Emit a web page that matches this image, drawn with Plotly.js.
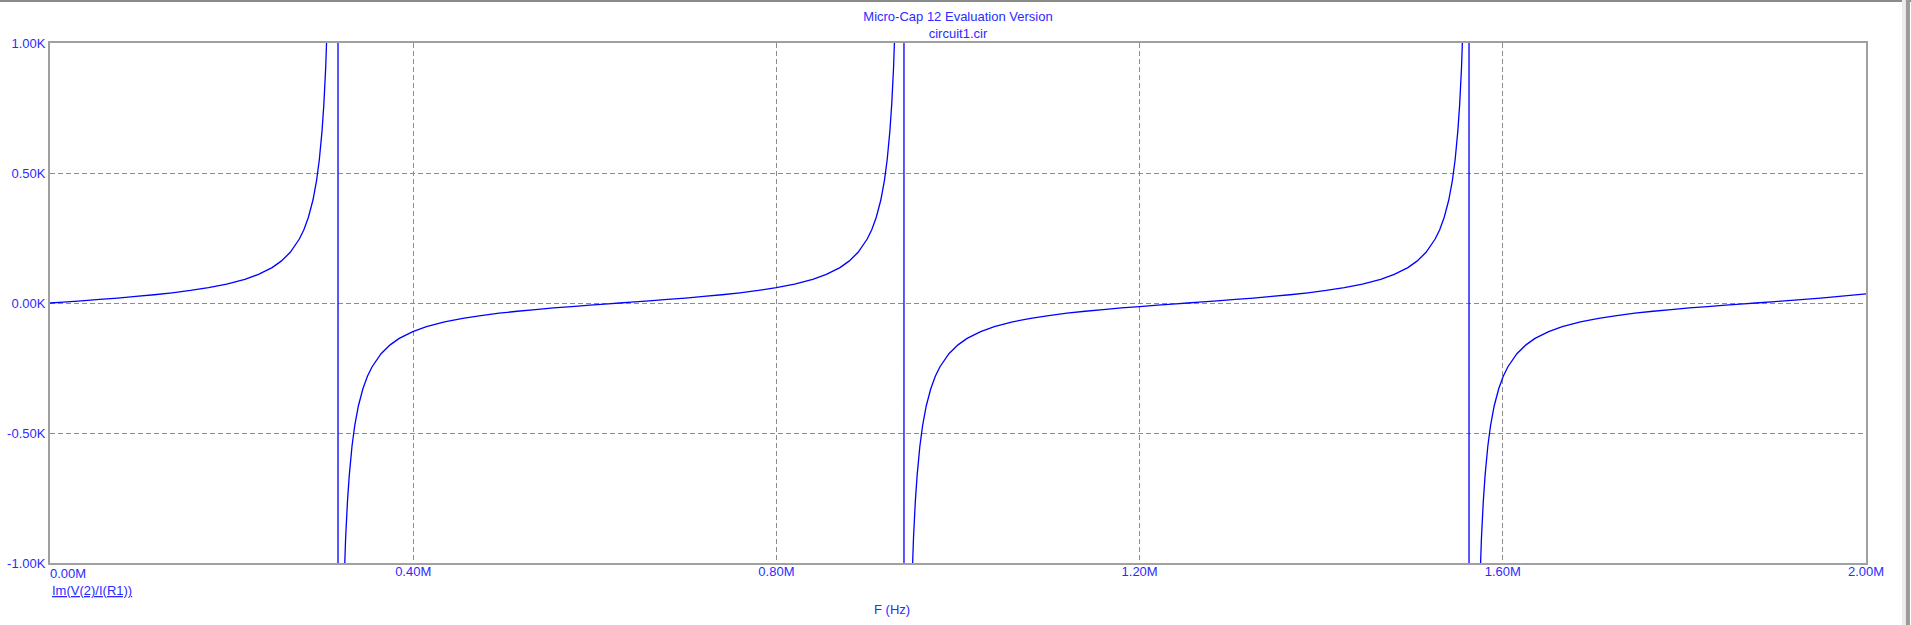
<!DOCTYPE html>
<html>
<head>
<meta charset="utf-8">
<script src="https://cdn.plot.ly/plotly-3.0.1.min.js"></script>
<style>
  html, body { margin: 0; padding: 0; background: #ffffff; }
  #chart { width: 1911px; height: 625px; }
</style>
</head>
<body>
<div id="chart"></div>
<script>
// ---- Data (F in MHz, Im(V(2)/I(R1)) in kOhm) ----
const branch1F = [0, 0.0146, 0.0346, 0.0546, 0.0746, 0.0946, 0.1146, 0.1346, 0.1546, 0.1746, 0.1946, 0.2146, 0.2296, 0.2446, 0.2546, 0.2646, 0.2746, 0.2796, 0.2846, 0.2896, 0.2936, 0.2966, 0.2996, 0.3016, 0.3036, 0.3056, 0.3076, 0.3096, 0.3171];
const branch1V = [0, 0.0032, 0.0083, 0.0136, 0.0191, 0.0251, 0.0318, 0.0393, 0.0482, 0.0590, 0.0726, 0.0911, 0.110, 0.136, 0.161, 0.195, 0.246, 0.282, 0.330, 0.396, 0.472, 0.551, 0.662, 0.764, 0.903, 1.105, 1.42, 1.99, 40];

const branch2F = [0.3173, 0.3196, 0.3216, 0.3236, 0.3256, 0.3276, 0.3296, 0.3326, 0.3356, 0.3396, 0.3446, 0.3496, 0.3546, 0.3646, 0.3746, 0.3846, 0.3996, 0.4146, 0.4346, 0.4546, 0.4746, 0.4946, 0.5146, 0.5346, 0.5546, 0.5746, 0.5946, 0.6146, 0.6273, 0.6400, 0.6600, 0.6800, 0.7000, 0.7200, 0.7400, 0.7600, 0.7800, 0.8000, 0.8200, 0.8400, 0.8550, 0.8700, 0.8800, 0.8900, 0.9000, 0.9050, 0.9100, 0.9150, 0.9190, 0.9220, 0.9250, 0.9270, 0.9290, 0.9310, 0.9330, 0.9350, 0.9404];
const branch2V = [-40, -1.99, -1.42, -1.105, -0.903, -0.764, -0.662, -0.551, -0.472, -0.396, -0.330, -0.282, -0.246, -0.195, -0.161, -0.136, -0.110, -0.0911, -0.0726, -0.0590, -0.0482, -0.0393, -0.0318, -0.0251, -0.0191, -0.0136, -0.0083, -0.0032, 0, 0.0032, 0.0083, 0.0136, 0.0191, 0.0251, 0.0318, 0.0393, 0.0482, 0.0590, 0.0726, 0.0911, 0.110, 0.136, 0.161, 0.195, 0.246, 0.282, 0.330, 0.396, 0.472, 0.551, 0.662, 0.764, 0.903, 1.105, 1.42, 1.99, 40];

const branch3F = [0.9406, 0.9450, 0.9470, 0.9490, 0.9510, 0.9530, 0.9550, 0.9580, 0.9610, 0.9650, 0.9700, 0.9750, 0.9800, 0.9900, 1.0000, 1.0100, 1.0250, 1.0400, 1.0600, 1.0800, 1.1000, 1.1200, 1.1400, 1.1600, 1.1800, 1.2000, 1.2200, 1.2400, 1.2528, 1.2655, 1.2855, 1.3055, 1.3255, 1.3455, 1.3655, 1.3855, 1.4055, 1.4255, 1.4455, 1.4655, 1.4805, 1.4955, 1.5055, 1.5155, 1.5255, 1.5305, 1.5355, 1.5405, 1.5445, 1.5475, 1.5505, 1.5525, 1.5545, 1.5565, 1.5585, 1.5605, 1.5627];
const branch3V = [-40, -1.99, -1.42, -1.105, -0.903, -0.764, -0.662, -0.551, -0.472, -0.396, -0.330, -0.282, -0.246, -0.195, -0.161, -0.136, -0.110, -0.0911, -0.0726, -0.0590, -0.0482, -0.0393, -0.0318, -0.0251, -0.0191, -0.0136, -0.0083, -0.0032, 0, 0.0032, 0.0083, 0.0136, 0.0191, 0.0251, 0.0318, 0.0393, 0.0482, 0.0590, 0.0726, 0.0911, 0.110, 0.136, 0.161, 0.195, 0.246, 0.282, 0.330, 0.396, 0.472, 0.551, 0.662, 0.764, 0.903, 1.105, 1.42, 1.99, 40];

const branch4F = [1.5629, 1.5705, 1.5725, 1.5745, 1.5765, 1.5785, 1.5805, 1.5835, 1.5865, 1.5905, 1.5955, 1.6005, 1.6055, 1.6155, 1.6255, 1.6355, 1.6505, 1.6655, 1.6855, 1.7055, 1.7255, 1.7455, 1.7655, 1.7855, 1.8055, 1.8255, 1.8455, 1.8655, 1.8783, 1.9000, 1.9500, 2.0000];
const branch4V = [-40, -1.99, -1.42, -1.105, -0.903, -0.764, -0.662, -0.551, -0.472, -0.396, -0.330, -0.282, -0.246, -0.195, -0.161, -0.136, -0.110, -0.0911, -0.0726, -0.0590, -0.0482, -0.0393, -0.0318, -0.0251, -0.0191, -0.0136, -0.0083, -0.0032, 0, 0.0055, 0.0188, 0.0352];

const xTickVals = [0, 0.4, 0.8, 1.2, 1.6, 2.0];
const xTickText = ['0.00M', '0.40M', '0.80M', '1.20M', '1.60M', '2.00M'];
const yTickVals = [-1, -0.5, 0, 0.5, 1];
const yTickText = ['-1.00K', '-0.50K', '0.00K', '0.50K', '1.00K'];

const titleLines = ['Micro-Cap 12 Evaluation Version', 'circuit1.cir'];
const xAxisLabel = 'F (Hz)';
const curveLabel = 'Im(V(2)/I(R1))';

// ---- Build traces ----
const freq = [].concat(branch1F, branch2F, branch3F, branch4F);
const vals = [].concat(branch1V, branch2V, branch3V, branch4V);

const BLUE = '#0000ff';
const TEXT_BLUE = '#2b2bff';
const FONT = 'Arial, "Liberation Sans", sans-serif';

const trace = {
  x: freq, y: vals,
  type: 'scatter', mode: 'lines',
  line: { color: BLUE, width: 1.3, simplify: false },
  hoverinfo: 'skip',
  showlegend: false
};
// empty helper trace so that the overlay axis carrying the first tick label is drawn
const axisHelper = {
  x: [], y: [], xaxis: 'x2', yaxis: 'y',
  type: 'scatter', mode: 'lines', hoverinfo: 'skip', showlegend: false
};

const gridCommon = {
  showgrid: true, gridcolor: '#8c8c8c', gridwidth: 1, griddash: '5px,3px',
  zeroline: false, showline: true, mirror: true, linecolor: '#a0a0a0', linewidth: 2,
  ticks: '', fixedrange: true
};

const layout = {
  width: 1911, height: 625,
  margin: { l: 50, r: 45, t: 43, b: 62, pad: 0 },
  paper_bgcolor: '#ffffff', plot_bgcolor: '#ffffff',
  font: { family: FONT, size: 13, color: TEXT_BLUE },
  showlegend: false,
  title: {
    text: titleLines.join('<br>'),
    font: { family: FONT, size: 13, color: TEXT_BLUE },
    x: 0.5, xref: 'paper', xanchor: 'center',
    y: 1 - 21 / 625, yref: 'container', yanchor: 'top'
  },
  xaxis: Object.assign({}, gridCommon, {
    range: [0, 2],
    tickmode: 'array', tickvals: xTickVals.slice(1), ticktext: xTickText.slice(1),
    ticklabelstandoff: -5,
    tickfont: { family: FONT, size: 13, color: TEXT_BLUE }
  }),
  xaxis2: {
    overlaying: 'x', anchor: 'y', side: 'bottom', range: [0, 2],
    tickmode: 'array', tickvals: xTickVals.slice(0, 1), ticktext: xTickText.slice(0, 1),
    ticklabelshift: 18, ticklabelstandoff: 1,
    showgrid: false, zeroline: false, showline: false, ticks: '',
    tickfont: { family: FONT, size: 13, color: TEXT_BLUE }, fixedrange: true
  },
  yaxis: Object.assign({}, gridCommon, {
    range: [-1, 1],
    tickmode: 'array', tickvals: yTickVals, ticktext: yTickText,
    tickfont: { family: FONT, size: 13, color: TEXT_BLUE }
  }),
  annotations: [
    { text: xAxisLabel, xref: 'paper', yref: 'paper', x: 0.4639, y: -0.0885,
      xanchor: 'center', yanchor: 'middle', showarrow: false,
      font: { family: FONT, size: 13, color: TEXT_BLUE } },
    { text: '<u>' + curveLabel + '</u>', xref: 'paper', yref: 'paper', x: 0, y: -0.0538,
      xanchor: 'left', yanchor: 'middle', showarrow: false,
      font: { family: FONT, size: 13, color: TEXT_BLUE } }
  ],
  shapes: [
    { type: 'rect', xref: 'paper', yref: 'paper', x0: -0.0276, x1: 1.0248, y0: 1.0788, y1: 1.0827,
      fillcolor: '#8a8a8a', line: { width: 0 }, layer: 'above' },
    { type: 'rect', xref: 'paper', yref: 'paper', x0: 1.0198, x1: 1.0220, y0: -0.1192, y1: 1.0827,
      fillcolor: '#ececec', line: { width: 0 }, layer: 'above' },
    { type: 'rect', xref: 'paper', yref: 'paper', x0: 1.0220, x1: 1.0242, y0: -0.1192, y1: 1.0827,
      fillcolor: '#9a9a9a', line: { width: 0 }, layer: 'above' }
  ]
};

Plotly.newPlot('chart', [trace, axisHelper], layout, { displayModeBar: false, staticPlot: true });
</script>
</body>
</html>
